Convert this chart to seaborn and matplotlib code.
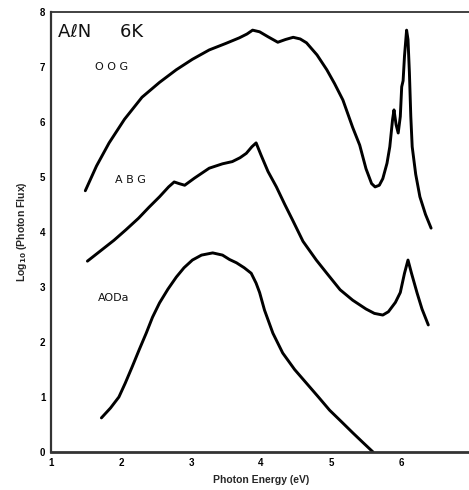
import matplotlib
matplotlib.use("Agg")
import matplotlib.pyplot as plt
import seaborn as sns
import pandas as pd

# Photoluminescence spectra of AlN at 6 K (log10 photon flux vs photon energy)
oog_energy = [1.49, 1.65, 1.83, 2.05, 2.30, 2.55, 2.79, 3.02, 3.26, 3.50, 3.69, 3.80,
              3.88, 3.98, 4.10, 4.24, 4.35, 4.46, 4.56, 4.65, 4.80, 4.94, 5.05, 5.17,
              5.31, 5.41, 5.50, 5.58, 5.63, 5.69, 5.74, 5.80, 5.84, 5.88, 5.90, 5.93,
              5.96, 5.99, 6.01, 6.03, 6.05, 6.08, 6.10, 6.12, 6.14, 6.16, 6.21, 6.27,
              6.35, 6.43]
oog_flux = [4.75, 5.20, 5.62, 6.05, 6.45, 6.72, 6.95, 7.14, 7.31, 7.43, 7.53, 7.60,
            7.67, 7.64, 7.55, 7.45, 7.50, 7.54, 7.51, 7.44, 7.22, 6.95, 6.70, 6.40,
            5.90, 5.58, 5.15, 4.88, 4.82, 4.85, 4.97, 5.25, 5.55, 6.05, 6.22, 5.95,
            5.80, 6.10, 6.64, 6.75, 7.20, 7.67, 7.50, 6.90, 6.10, 5.55, 5.05, 4.64,
            4.32, 4.07]

abg_energy = [1.52, 1.70, 1.90, 2.07, 2.25, 2.40, 2.55, 2.68, 2.76, 2.83, 2.91, 3.05,
              3.26, 3.45, 3.59, 3.70, 3.79, 3.87, 3.93, 4.00, 4.10, 4.22, 4.34, 4.45,
              4.60, 4.79, 4.94, 5.13, 5.31, 5.50, 5.62, 5.74, 5.82, 5.92, 5.99, 6.05,
              6.10, 6.15, 6.23, 6.30, 6.39]
abg_flux = [3.47, 3.65, 3.85, 4.04, 4.25, 4.45, 4.64, 4.82, 4.91, 4.88, 4.85, 4.98,
            5.16, 5.24, 5.28, 5.35, 5.43, 5.55, 5.62, 5.40, 5.10, 4.82, 4.50, 4.22,
            3.83, 3.49, 3.25, 2.95, 2.76, 2.60, 2.52, 2.49, 2.55, 2.72, 2.90, 3.25,
            3.49, 3.25, 2.89, 2.60, 2.31]

aoda_energy = [1.72, 1.85, 1.97, 2.06, 2.16, 2.26, 2.36, 2.45, 2.55, 2.67, 2.79, 2.90,
               3.02, 3.15, 3.31, 3.45, 3.55, 3.65, 3.76, 3.86, 3.93, 3.98, 4.05, 4.17,
               4.31, 4.48, 4.65, 4.82, 4.98, 5.15, 5.31, 5.45, 5.60]
aoda_flux = [0.62, 0.80, 1.00, 1.25, 1.55, 1.86, 2.16, 2.45, 2.71, 2.96, 3.18, 3.35,
             3.49, 3.58, 3.62, 3.58, 3.50, 3.44, 3.35, 3.25, 3.07, 2.90, 2.58, 2.16,
             1.80, 1.50, 1.25, 1.00, 0.76, 0.55, 0.35, 0.18, 0.00]

curve_names = ["OOG", "ABG", "AODa"]
label_positions = {"OOG": (1.63, 7.0), "ABG": (1.92, 4.95), "AODa": (1.67, 2.8)}

frames = []
for name, e, f in [("OOG", oog_energy, oog_flux),
                   ("ABG", abg_energy, abg_flux),
                   ("AODa", aoda_energy, aoda_flux)]:
    frames.append(pd.DataFrame({"energy": e, "flux": f, "sample": name}))
data = pd.concat(frames, ignore_index=True)

sns.set_style("white")
plt.rcParams["font.family"] = ["Liberation Sans", "DejaVu Sans"]

fig = plt.figure(figsize=(4.69, 4.90), dpi=100)
ax = fig.add_axes([51 / 469, 38 / 490, 420 / 469, 440 / 490])

for name in curve_names:
    sub = data[data["sample"] == name]
    sns.lineplot(data=sub, x="energy", y="flux", ax=ax, color="black",
                 linewidth=2.1, sort=False, estimator=None, legend=False)

ax.set_xlim(1, 7)
ax.set_ylim(0, 8)
ax.set_xticks(range(1, 8))
ax.set_yticks(range(0, 9))
ax.tick_params(direction="in", length=3, width=1.2, colors="#333333",
               labelsize=7, labelcolor="black", pad=4)
for lbl in ax.get_xticklabels() + ax.get_yticklabels():
    lbl.set_fontweight("bold")

ax.set_xlabel("Photon Energy (eV)", fontsize=7.5, fontweight="bold", labelpad=5)
ax.set_ylabel("Log$_{\\mathbf{10}}$ (Photon Flux)", fontsize=7.5, fontweight="bold",
              labelpad=8)

for side in ["left", "bottom", "top"]:
    ax.spines[side].set_visible(True)
    ax.spines[side].set_color("#333333")
ax.spines["left"].set_linewidth(1.6)
ax.spines["bottom"].set_linewidth(2.0)
ax.spines["top"].set_linewidth(1.3)
ax.spines["right"].set_visible(False)

ax.text(1.1, 7.55, "AℓN     6K", fontsize=13, family="DejaVu Sans", color="#111111")
for name in curve_names:
    x, y = label_positions[name]
    ax.text(x, y, " ".join(name) if name != "AODa" else name, fontsize=8,
            family="DejaVu Sans", color="#111111", va="center")

fig.savefig("out.png", dpi=100, facecolor="white")
